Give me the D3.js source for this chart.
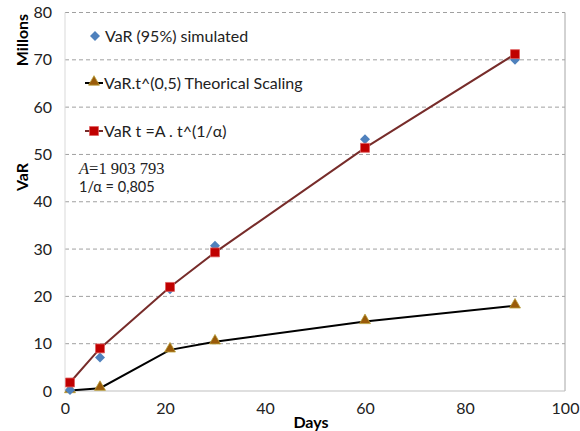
<!DOCTYPE html>
<html><head><meta charset="utf-8">
<script src="https://cdn.jsdelivr.net/npm/d3@7"></script>
<style>body{margin:0;background:#fff}svg{display:block}text{font-family:Lato,"Open Sans",sans-serif}</style>
</head><body><svg id="c" width="580" height="431"></svg>
<script>
const days = [1, 7, 21, 30, 60, 90];
const simulated = [0.2, 7.1, 21.5, 30.7, 53.2, 70.0];
const theoretical = [0.1, 0.6, 8.7, 10.4, 14.7, 18.0];
const fitted = [1.8, 9.0, 22.0, 29.3, 51.4, 71.2];
const xTicks = [0, 20, 40, 60, 80, 100];
const yTicks = [0, 10, 20, 30, 40, 50, 60, 70, 80];
const legendLabels = ["VaR (95%) simulated", "VaR.t^(0,5) Theorical Scaling", "VaR t =A . t^(1/α)"];

const svg = d3.select("#c");
const L = 65, R = 565, T = 12.5, B = 391;
const x = d3.scaleLinear().domain([0, 100]).range([L, R]);
const y = d3.scaleLinear().domain([0, 80]).range([B, T]);

svg.append("g").selectAll("line").data(yTicks.filter(d => d > 0)).join("line")
  .attr("x1", L).attr("x2", R).attr("y1", d => y(d)).attr("y2", d => y(d))
  .attr("stroke", "#a0a0a0").attr("stroke-dasharray", "4,3").attr("stroke-width", 1);
svg.append("line").attr("x1", L).attr("x2", L).attr("y1", T).attr("y2", B).attr("stroke", "#d9d9d9");
svg.append("line").attr("x1", R).attr("x2", R).attr("y1", T).attr("y2", B).attr("stroke", "#a6a6a6");
svg.append("line").attr("x1", L).attr("x2", R).attr("y1", B).attr("y2", B).attr("stroke", "#bfbfbf");

const yAxis = d3.axisLeft(y).tickValues(yTicks).tickSize(0).tickPadding(13);
const gy = svg.append("g").attr("transform", `translate(${L},0)`).call(yAxis);
gy.select(".domain").remove();
gy.selectAll("text").attr("font-size", 16).attr("fill", "#222").style("font-family", "Lato");
const xAxis = d3.axisBottom(x).tickValues(xTicks).tickSize(0).tickPadding(12);
const gx = svg.append("g").attr("transform", `translate(0,${B})`).call(xAxis);
gx.select(".domain").remove();
gx.selectAll("text").attr("font-size", 16).attr("fill", "#222").style("font-family", "Lato");

svg.append("text").attr("x", 311).attr("y", 428).attr("text-anchor", "middle")
  .attr("font-size", 16).attr("font-weight", "bold").text("Days");
svg.append("text").attr("transform", "translate(28,177) rotate(-90)").attr("text-anchor", "middle")
  .attr("font-size", 16).attr("font-weight", "bold").text("VaR");
svg.append("text").attr("transform", "translate(28,40) rotate(-90)").attr("text-anchor", "middle")
  .attr("font-size", 16).attr("font-weight", "bold").text("Millons");

const data = (vals) => days.map((d, i) => [d, vals[i]]);
const line = d3.line().x(d => x(d[0])).y(d => y(d[1]));

svg.append("path").datum(data(theoretical)).attr("d", line).attr("fill", "none").attr("stroke", "#000").attr("stroke-width", 2);
svg.append("path").datum(data(fitted)).attr("d", line).attr("fill", "none").attr("stroke", "#772c2a").attr("stroke-width", 2);

const tri = d3.symbol().type(d3.symbolTriangle).size(52);
const sq = d3.symbol().type(d3.symbolSquare).size(80);
const dia = d3.symbol().type(d3.symbolSquare).size(50);

svg.append("g").selectAll("path").data(data(theoretical)).join("path")
  .attr("d", tri).attr("transform", d => `translate(${x(d[0])},${y(d[1]) - 1})`)
  .attr("fill", "#9a5b0a").attr("stroke", "#b7a03a").attr("stroke-width", 0.8);
svg.append("g").selectAll("path").data(data(simulated)).join("path")
  .attr("d", dia).attr("transform", d => `translate(${x(d[0])},${y(d[1])}) rotate(45)`)
  .attr("fill", "#4f81bd");
svg.append("g").selectAll("path").data(data(fitted)).join("path")
  .attr("d", sq).attr("transform", d => `translate(${x(d[0])},${y(d[1])})`)
  .attr("fill", "#c00000").attr("stroke", "#e06060").attr("stroke-width", 0.8);

const lg = svg.append("g");
const ly = [36, 83, 131];
lg.append("path").attr("d", dia).attr("transform", `translate(95,${ly[0]}) rotate(45)`).attr("fill", "#4f81bd");
lg.append("line").attr("x1", 85).attr("x2", 103).attr("y1", ly[1]).attr("y2", ly[1]).attr("stroke", "#000").attr("stroke-width", 2);
lg.append("path").attr("d", tri).attr("transform", `translate(94,${ly[1] - 1})`).attr("fill", "#9a5b0a").attr("stroke", "#b7a03a").attr("stroke-width", 0.8);
lg.append("line").attr("x1", 85).attr("x2", 103).attr("y1", ly[2]).attr("y2", ly[2]).attr("stroke", "#772c2a").attr("stroke-width", 2);
lg.append("path").attr("d", sq).attr("transform", `translate(94,${ly[2]})`).attr("fill", "#c00000").attr("stroke", "#e06060").attr("stroke-width", 0.8);
const lx = [105, 104, 104];
legendLabels.forEach((t, i) => {
  lg.append("text").attr("x", lx[i]).attr("y", ly[i] + 6).attr("font-size", 16).attr("fill", "#222").text(t);
});

const an = svg.append("text").attr("x", 79).attr("y", 174).attr("font-size", 16.5).attr("fill", "#222")
  .style("font-family", "'Liberation Serif','DejaVu Serif',serif");
an.append("tspan").attr("font-style", "italic").text("A");
an.append("tspan").text("=1 903 793");
svg.append("text").attr("x", 79).attr("y", 192).attr("font-size", 14.5).attr("fill", "#222").text("1/α = 0,805");
</script></body></html>
